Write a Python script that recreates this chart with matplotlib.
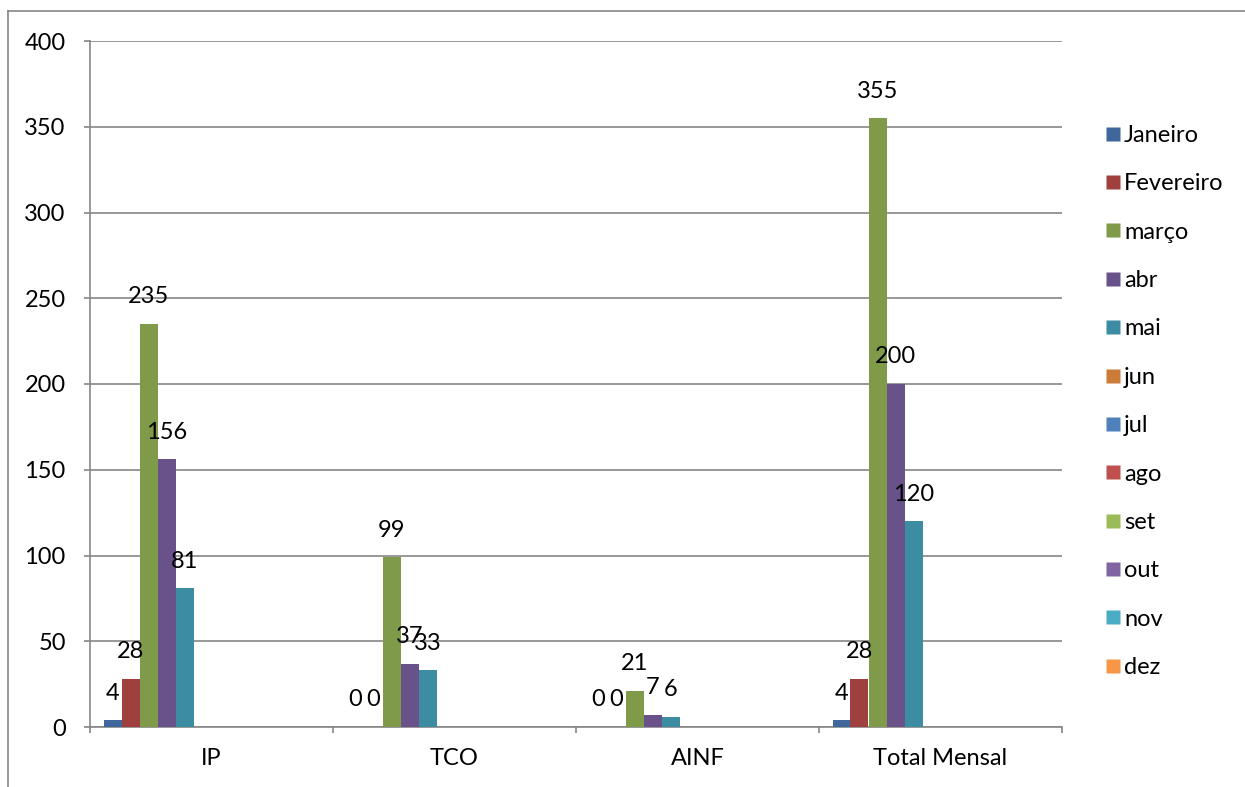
import matplotlib
matplotlib.use("Agg")
import matplotlib.pyplot as plt
from matplotlib.lines import Line2D
import numpy as np

plt.rcParams['font.family'] = ['Lato', 'DejaVu Sans']

categories = ["IP", "TCO", "AINF", "Total Mensal"]
series_names = ["Janeiro", "Fevereiro", "março", "abr", "mai", "jun",
                "jul", "ago", "set", "out", "nov", "dez"]
janeiro = [4, 0, 0, 4]
fevereiro = [28, 0, 0, 28]
marco = [235, 99, 21, 355]
abr = [156, 37, 7, 200]
mai = [81, 33, 6, 120]
empty = [np.nan, np.nan, np.nan, np.nan]
series_values = [janeiro, fevereiro, marco, abr, mai,
                 empty, empty, empty, empty, empty, empty, empty]
colors = ["#3F679B", "#A0403E", "#7F9A48", "#69518A", "#3C8DA3", "#CC7B38",
          "#4F81BD", "#C0504D", "#9BBB59", "#8064A2", "#4BACC6", "#F79646"]
y_ticks = [0, 50, 100, 150, 200, 250, 300, 350, 400]

FS = 17
W, H = 1245, 787
fig = plt.figure(figsize=(W / 100, H / 100), dpi=100)
ax = fig.add_axes([90 / W, 1 - 727 / H, (1062 - 90) / W, (727 - 41) / H])

x = np.arange(len(categories))
n = len(series_names)
w = 18 / 243
handles = []
for i, (name, vals, c) in enumerate(zip(series_names, series_values, colors)):
    pos = x + (i - (n - 1) / 2) * w
    vals_arr = np.array(vals, dtype=float)
    ax.bar(pos, np.nan_to_num(vals_arr), width=w, color=c, edgecolor='none', zorder=3)
    for p, v in zip(pos, vals_arr):
        if not np.isnan(v):
            ax.annotate(f"{int(v)}", (p, v), xytext=(0, 19.5), textcoords='offset points',
                        ha='center', va='center', fontsize=FS, color='black', zorder=5)
    handles.append(Line2D([0], [0], marker='s', linestyle='none', markersize=10,
                          markerfacecolor=c, markeredgecolor='none', label=name))

ax.set_xlim(-0.5, len(categories) - 0.5)
ax.set_ylim(0, 400)
ax.set_yticks(y_ticks)
ax.set_yticklabels([str(t) for t in y_ticks], fontsize=FS)
ax.set_xticks(x)
ax.set_xticklabels(categories, fontsize=FS)
ax.set_xticks(np.arange(-0.5, len(categories), 1.0), minor=True)
ax.tick_params(axis='x', which='major', length=0, pad=15)
ax.tick_params(axis='x', which='minor', length=4.5, width=1.2, color='#868686', direction='out')
ax.tick_params(axis='y', which='major', length=4.5, width=1.2, color='#868686', direction='out', pad=13)

ax.grid(axis='y', color='#868686', linewidth=1.2, zorder=0)
ax.set_axisbelow(True)
for s in ['top', 'right']:
    ax.spines[s].set_visible(False)
for s in ['left', 'bottom']:
    ax.spines[s].set_color('#868686')
    ax.spines[s].set_linewidth(1.2)

leg = fig.legend(handles=handles, loc='center left',
                 bbox_to_anchor=(1104 / W, 1 - 401.5 / H), frameon=False,
                 fontsize=FS, labelspacing=1.16, handletextpad=0.1,
                 borderpad=0, borderaxespad=0, handlelength=0.75)

# outer chart frame (left and top edges visible)
fig.add_artist(Line2D([8 / W, 8 / W], [0, 1 - 11 / H], transform=fig.transFigure,
                      color='#868686', linewidth=1.2))
fig.add_artist(Line2D([8 / W, 1], [1 - 11 / H, 1 - 11 / H], transform=fig.transFigure,
                      color='#868686', linewidth=1.2))

fig.savefig("out.png", dpi=100)
